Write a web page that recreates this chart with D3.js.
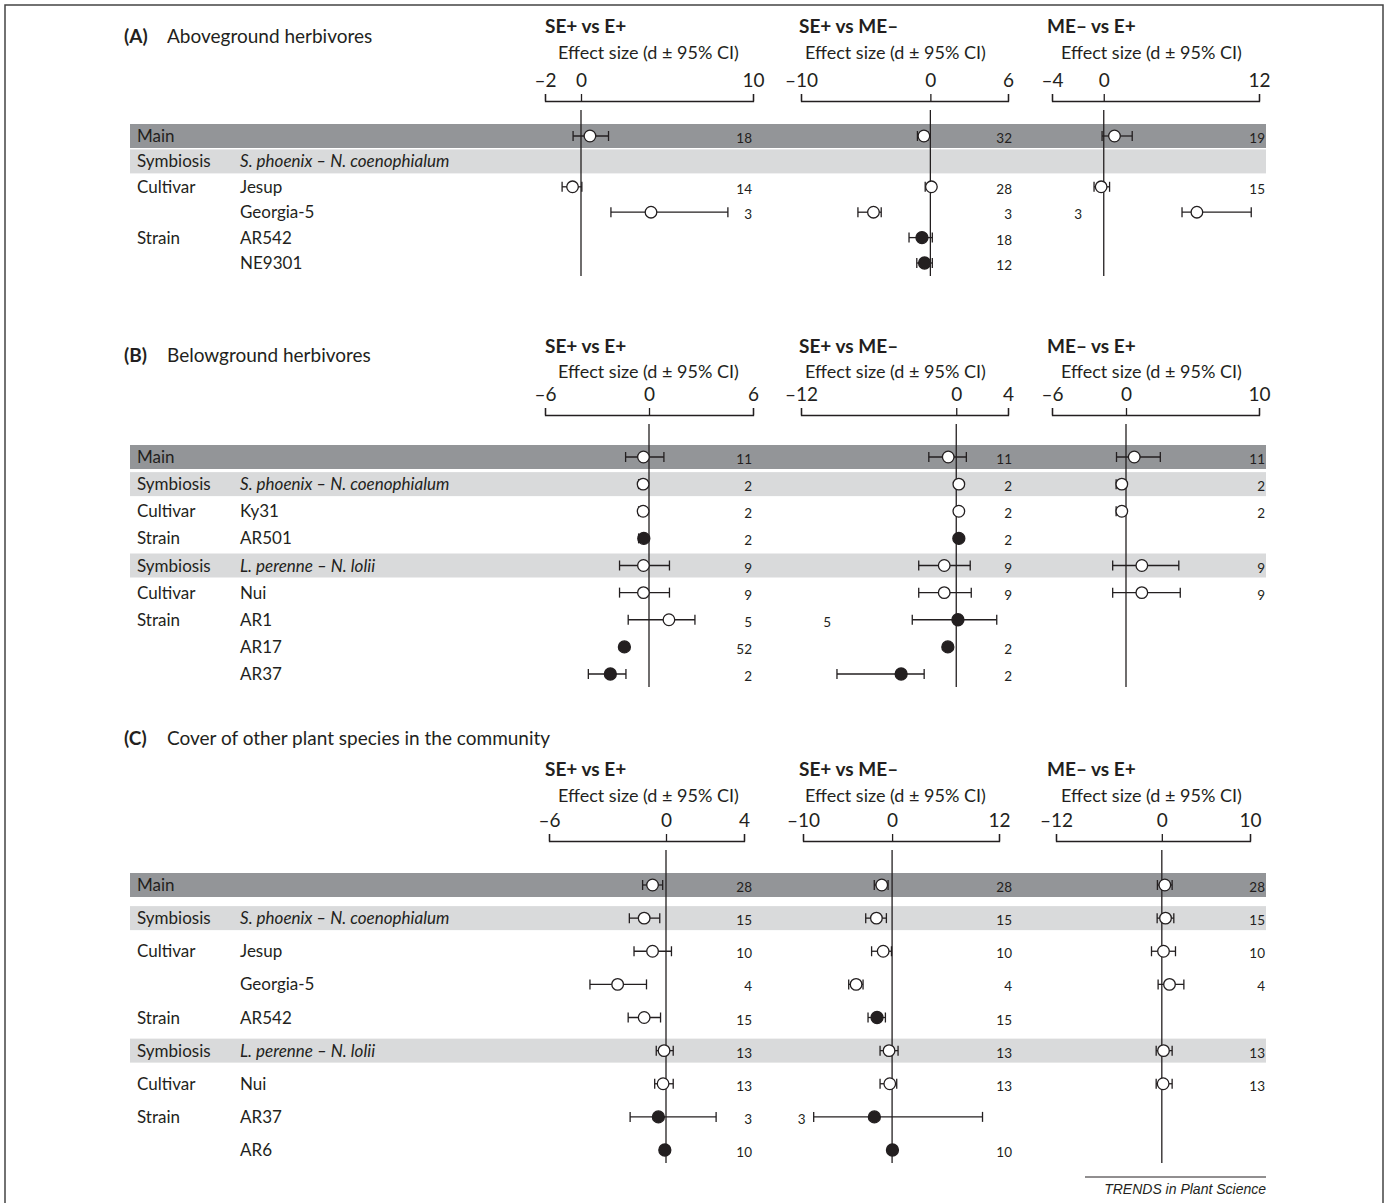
<!DOCTYPE html>
<html>
<head>
<meta charset="utf-8">
<script src="https://cdnjs.cloudflare.com/ajax/libs/d3/7.8.5/d3.min.js"></script>
<style>
  body { margin: 0; background: #fff; }
  text { font-family: Lato, "Open Sans", sans-serif; fill: #231f20; }
</style>
</head>
<body>
<div id="chart"></div>
<script>
var colTitles = ["SE+ vs E+", "SE+ vs ME–", "ME– vs E+"];
var axisLabel = "Effect size (d ± 95% CI)";

// each point: [d, lower CI, upper CI, n, filled]
// (A) aboveground herbivores
var titleA = "Aboveground herbivores";
var groupsA = ["Main", "Symbiosis", "Cultivar", "", "Strain", ""];
var namesA = ["", "S. phoenix – N. coenophialum", "Jesup", "Georgia-5", "AR542", "NE9301"];
var domainsA = [[-2, 10], [-10, 6], [-4, 12]];
var seE_A = [[0.52, -0.44, 1.6, 18, 0], null, [-0.47, -1.05, 0.05, 14, 0], [4.07, 1.74, 8.54, 3, 0], null, null];
var seME_A = [[-0.5, -1.0, -0.2, 32, 0], null, [0.08, -0.4, 0.2, 28, 0], [-4.4, -5.6, -3.8, 3, 0], [-0.65, -1.65, 0.15, 18, 1], [-0.45, -1.05, 0.15, 12, 1]];
var meE_A = [[0.83, -0.13, 2.2, 19, 0], null, [-0.2, -0.75, 0.45, 15, 0], [7.2, 6.05, 11.4, 3, 0], null, null];

// (B) belowground herbivores
var titleB = "Belowground herbivores";
var groupsB = ["Main", "Symbiosis", "Cultivar", "Strain", "Symbiosis", "Cultivar", "Strain", "", ""];
var namesB = ["", "S. phoenix – N. coenophialum", "Ky31", "AR501", "L. perenne – N. lolii", "Nui", "AR1", "AR17", "AR37"];
var domainsB = [[-6, 6], [-12, 4], [-6, 10]];
var seE_B = [[-0.32, -1.35, 0.86, 11, 0], [-0.34, -0.6, -0.25, 2, 0], [-0.34, -0.6, -0.25, 2, 0], [-0.3, -0.6, -0.2, 2, 1],
  [-0.32, -1.7, 1.18, 9, 0], [-0.32, -1.7, 1.18, 9, 0], [1.15, -1.2, 2.65, 5, 0], [-1.42, -1.5, -1.35, 52, 1], [-2.23, -3.5, -1.33, 2, 1]];
var seME_B = [[-0.62, -2.12, 0.78, 11, 0], [0.2, 0.1, 0.3, 2, 0], [0.2, 0.1, 0.3, 2, 0], [0.2, 0.1, 0.3, 2, 1],
  [-0.93, -2.9, 1.08, 9, 0], [-0.93, -2.9, 1.16, 9, 0], [0.13, -3.4, 3.13, 5, 1], [-0.65, -0.75, -0.55, 2, 1], [-4.26, -9.22, -2.48, 2, 1]];
var meE_B = [[0.62, -0.77, 2.58, 11, 0], [-0.34, -0.8, -0.2, 2, 0], [-0.34, -0.8, -0.2, 2, 0], null,
  [1.19, -1.08, 3.97, 9, 0], [1.19, -1.08, 4.08, 9, 0], null, null, null];

// (C) cover of other plant species
var titleC = "Cover of other plant species in the community";
var groupsC = ["Main", "Symbiosis", "Cultivar", "", "Strain", "Symbiosis", "Cultivar", "Strain", ""];
var namesC = ["", "S. phoenix – N. coenophialum", "Jesup", "Georgia-5", "AR542", "L. perenne – N. lolii", "Nui", "AR37", "AR6"];
var domainsC = [[-6, 4], [-10, 12], [-12, 10]];
var seE_C = [[-0.69, -1.2, -0.17, 28, 0], [-1.12, -1.88, -0.32, 15, 0], [-0.69, -1.64, 0.28, 10, 0], [-2.48, -3.9, -1.0, 4, 0],
  [-1.12, -1.94, -0.28, 15, 0], [-0.1, -0.5, 0.37, 13, 0], [-0.15, -0.58, 0.37, 13, 0], [-0.39, -1.84, 2.57, 3, 1], [-0.06, -0.1, 0, 10, 1]];
var seME_C = [[-1.16, -2.0, -0.45, 28, 0], [-1.76, -2.96, -0.64, 15, 0], [-1.0, -2.3, -0.07, 10, 0], [-4.04, -4.87, -3.26, 4, 0],
  [-1.69, -2.7, -0.75, 15, 1], [-0.34, -1.35, 0.67, 13, 0], [-0.26, -1.35, 0.52, 13, 0], [-1.99, -8.8, 10.15, 3, 1], [0.04, 0, 0.1, 10, 1]];
var meE_C = [[0.34, -0.5, 1.17, 28, 0], [0.42, -0.53, 1.36, 15, 0], [0.19, -1.17, 1.55, 10, 0], [0.87, -0.42, 2.5, 4, 0],
  null, [0.19, -0.64, 1.17, 13, 0], [0.15, -0.64, 1.17, 13, 0], null, null];

// ---- layout ----
var W = 1388, H = 1203;
var headX = [545, 799, 1047], subX = [558, 805, 1061];
var countX = [752, 1012, 1265];
var countLeft = {"A-2-3": 1, "B-1-6": 1, "C-1-7": 1};
var bandX0 = 130, bandX1 = 1266;

// axis ranges: [left, right] or [left, zero, right] where the drawn axis is not quite linear
var panels = [
  {key: "A", title: titleA, groups: groupsA, names: namesA, domains: domainsA, series: [seE_A, seME_A, meE_A],
    titleY: 37, headY: 27, subY: 53, axisY: 101, rowTop: 136, rowBottom: 263,
    ranges: [[545, 581, 753], [801, 1008], [1052, 1259]]},
  {key: "B", title: titleB, groups: groupsB, names: namesB, domains: domainsB, series: [seE_B, seME_B, meE_B],
    titleY: 356, headY: 347, subY: 372, axisY: 415, rowTop: 457, rowBottom: 674,
    ranges: [[545, 753], [801, 1008], [1052, 1126, 1259]]},
  {key: "C", title: titleC, groups: groupsC, names: namesC, domains: domainsC, series: [seE_C, seME_C, meE_C],
    titleY: 739, headY: 770, subY: 796, axisY: 841, rowTop: 885, rowBottom: 1150,
    ranges: [[549, 744], [803, 999], [1056, 1250]]}
];

var svg = d3.select("#chart").append("svg")
  .attr("width", W)
  .attr("height", H);

// frame (open at the bottom)
svg.append("path")
  .attr("d", "M5," + H + " V5 H1383 V" + H)
  .attr("fill", "none")
  .attr("stroke", "#444")
  .attr("stroke-width", 1.5);

function fmt(v) { return v < 0 ? "–" + Math.abs(v) : String(v); }

panels.forEach(function(p) {
  var g = svg.append("g");
  var nRows = p.groups.length;
  var y = d3.scalePoint().domain(d3.range(nRows)).range([p.rowTop, p.rowBottom]);

  // title
  var t = g.append("text").attr("x", 124).attr("y", p.titleY + 6).attr("font-size", 19);
  t.append("tspan").attr("font-weight", "bold").text("(" + p.key + ")");
  t.append("tspan").attr("x", 167).text(p.title);

  // row bands
  g.selectAll("rect.band")
    .data(d3.range(nRows).filter(function(i) { return p.groups[i] == "Main" || p.groups[i] == "Symbiosis"; }))
    .enter().append("rect")
    .attr("x", bandX0)
    .attr("width", bandX1 - bandX0)
    .attr("y", function(i) { return y(i) - 12; })
    .attr("height", 24)
    .attr("fill", function(i) { return p.groups[i] == "Main" ? "#939598" : "#d9dadb"; });

  // row labels
  g.selectAll("text.grp")
    .data(d3.range(nRows))
    .enter().append("text")
    .attr("x", 137)
    .attr("y", function(i) { return y(i) + 6; })
    .attr("font-size", 17)
    .text(function(i) { return p.groups[i]; });

  g.selectAll("text.nm")
    .data(d3.range(nRows))
    .enter().append("text")
    .attr("x", 240)
    .attr("y", function(i) { return y(i) + 6; })
    .attr("font-size", 17)
    .attr("font-style", function(i) { return p.groups[i] == "Symbiosis" ? "italic" : "normal"; })
    .text(function(i) { return p.names[i]; });

  p.series.forEach(function(ser, c) {
    var dom = p.domains[c];
    var rng = p.ranges[c];
    var x = d3.scaleLinear()
      .domain(rng.length == 3 ? [dom[0], 0, dom[1]] : dom)
      .range(rng);
    var left = rng[0];

    g.append("text")
      .attr("x", headX[c]).attr("y", p.headY + 6)
      .attr("font-size", 19).attr("font-weight", "bold")
      .text(colTitles[c]);
    g.append("text")
      .attr("x", subX[c]).attr("y", p.subY + 6)
      .attr("font-size", 18)
      .text(axisLabel);

    var axis = d3.axisTop(x)
      .tickValues([dom[0], 0, dom[1]])
      .tickFormat(fmt)
      .tickSize(7)
      .tickSizeOuter(7)
      .tickPadding(7);
    var ag = g.append("g")
      .attr("transform", "translate(0," + p.axisY + ")")
      .call(axis);
    ag.selectAll("path, line").attr("stroke", "#231f20").attr("stroke-width", 1.3);
    ag.selectAll("text").attr("font-size", 19).attr("font-family", "Lato, 'Open Sans', sans-serif").attr("fill", "#231f20");

    // zero line
    g.append("line")
      .attr("x1", x(0)).attr("x2", x(0))
      .attr("y1", p.axisY + 9).attr("y2", p.rowBottom + 13)
      .attr("stroke", "#231f20").attr("stroke-width", 1.3);

    var pts = ser.map(function(d, i) { return d ? {i: i, d: d} : null; }).filter(Boolean);

    var cg = g.append("g").selectAll("g")
      .data(pts)
      .enter().append("g")
      .attr("stroke", "#231f20")
      .attr("stroke-width", 1.3);

    cg.append("line")
      .attr("x1", function(o) { return x(o.d[1]); })
      .attr("x2", function(o) { return x(o.d[2]); })
      .attr("y1", function(o) { return y(o.i); })
      .attr("y2", function(o) { return y(o.i); });
    [1, 2].forEach(function(k) {
      cg.append("line")
        .attr("x1", function(o) { return x(o.d[k]); })
        .attr("x2", function(o) { return x(o.d[k]); })
        .attr("y1", function(o) { return y(o.i) - 5; })
        .attr("y2", function(o) { return y(o.i) + 5; });
    });
    cg.append("circle")
      .attr("cx", function(o) { return x(o.d[0]); })
      .attr("cy", function(o) { return y(o.i); })
      .attr("r", function(o) { return o.d[4] ? 6 : 5.8; })
      .attr("fill", function(o) { return o.d[4] ? "#231f20" : "#fff"; });

    // sample sizes
    g.selectAll("text.n" + c)
      .data(pts)
      .enter().append("text")
      .attr("font-size", 13.5)
      .attr("text-anchor", "end")
      .attr("x", function(o) {
        if (countLeft[p.key + "-" + c + "-" + o.i]) return Math.min(left + 30, x(o.d[1]) - 8);
        return countX[c];
      })
      .attr("y", function(o) { return y(o.i) + 7; })
      .text(function(o) { return o.d[3]; });
  });
});

// source line
svg.append("line")
  .attr("x1", 1085).attr("x2", 1266)
  .attr("y1", 1177).attr("y2", 1177)
  .attr("stroke", "#231f20").attr("stroke-width", 1);
svg.append("text")
  .attr("x", 1266).attr("y", 1194)
  .attr("text-anchor", "end")
  .attr("font-size", 14)
  .attr("font-style", "italic")
  .style("font-family", "'Liberation Sans', Arial, sans-serif")
  .text("TRENDS in Plant Science");
</script>
</body>
</html>
